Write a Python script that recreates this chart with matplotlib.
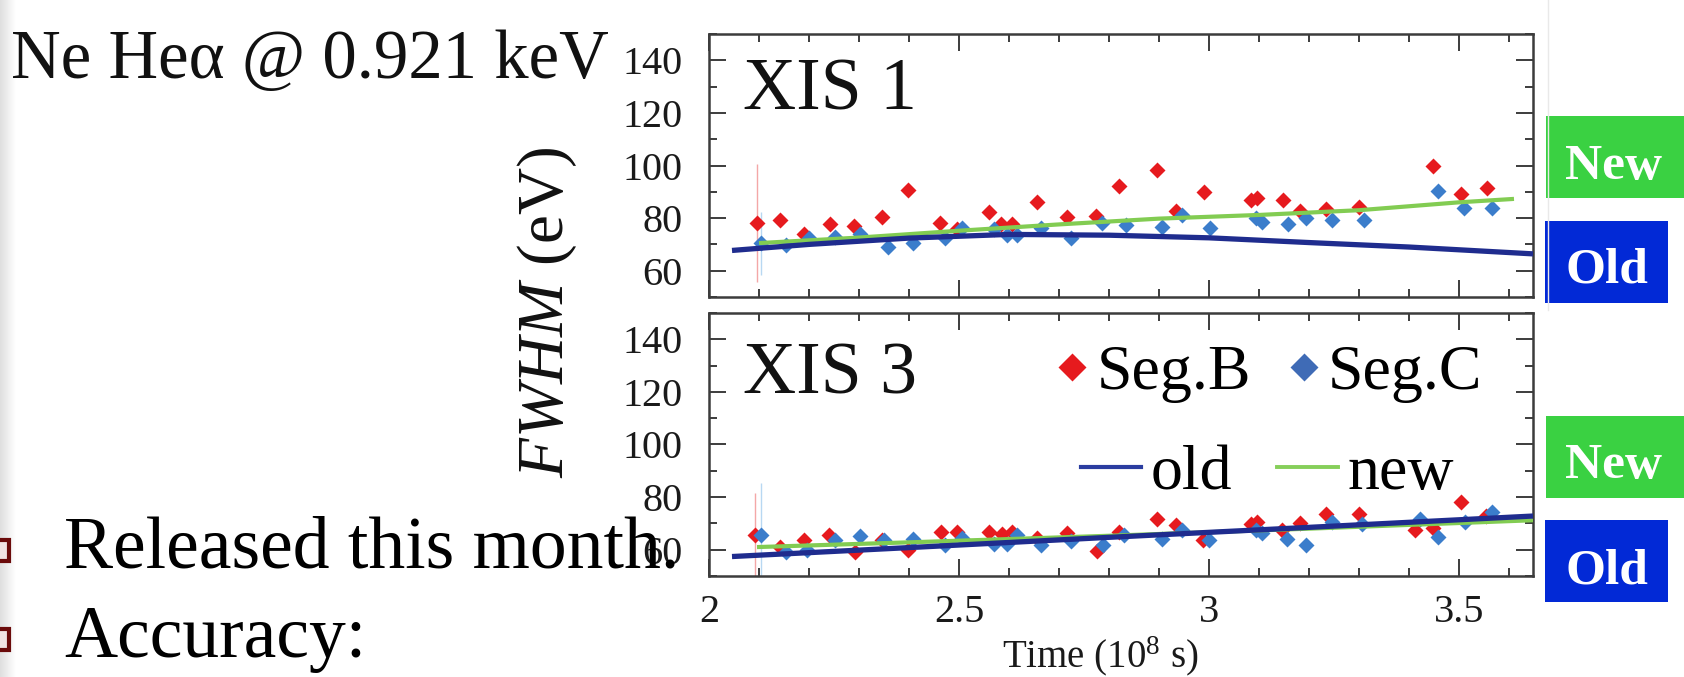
import matplotlib
matplotlib.use('Agg')
import matplotlib.pyplot as plt
from matplotlib.patches import Rectangle
from matplotlib.lines import Line2D
from matplotlib.ticker import FixedLocator, AutoMinorLocator
import numpy as np

plt.rcParams['font.family'] = ['Liberation Serif', 'DejaVu Serif']
plt.rcParams['mathtext.fontset'] = 'custom'
plt.rcParams['mathtext.rm'] = 'Liberation Serif'
plt.rcParams['mathtext.it'] = 'Liberation Serif:italic'

# ---------------- data ----------------
x_ticks = [2.0, 2.5, 3.0, 3.5]
x_ticklabels = ['2', '2.5', '3', '3.5']
y_ticks = [60, 80, 100, 120, 140]
y_ticklabels = ['60', '80', '100', '120', '140']

# XIS 1
t_B_top = [2.095, 2.143, 2.190, 2.242, 2.290, 2.346, 2.398, 2.462, 2.496, 2.560, 2.584, 2.606, 2.656, 2.715,
           2.773, 2.820, 2.895, 2.934, 2.990, 3.083, 3.096, 3.148, 3.182, 3.233, 3.300, 3.448, 3.503, 3.556]
y_B_top = [78.1, 79.4, 74.0, 77.9, 77.1, 80.4, 90.8, 78.1, 76.0, 82.3, 77.8, 77.8, 86.3, 80.4,
           80.9, 92.3, 98.4, 82.8, 90.1, 87.0, 87.6, 87.0, 82.8, 83.5, 84.4, 100.0, 89.1, 91.4]
t_C_top = [2.105, 2.155, 2.200, 2.252, 2.302, 2.358, 2.408, 2.472, 2.506, 2.570, 2.596, 2.616, 2.664, 2.724,
           2.786, 2.833, 2.906, 2.945, 3.002, 3.093, 3.106, 3.158, 3.193, 3.245, 3.310, 3.458, 3.510, 3.565]
y_C_top = [70.5, 69.8, 72.4, 73.0, 73.9, 69.2, 70.5, 72.4, 76.2, 75.9, 73.6, 73.6, 76.2, 72.4,
           78.1, 77.5, 76.8, 81.3, 76.4, 80.2, 78.7, 77.8, 80.2, 79.4, 79.1, 90.4, 84.0, 84.0]
old_top_t = [2.046, 2.2, 2.4, 2.6, 2.8, 3.0, 3.2, 3.4, 3.648]
old_top_y = [67.7, 70.0, 72.4, 73.8, 73.5, 72.5, 70.7, 69.0, 66.4]
new_top_t = [2.10, 2.3, 2.5, 2.7, 2.9, 3.1, 3.3, 3.5, 3.61]
new_top_y = [70.5, 72.6, 75.2, 77.6, 79.8, 81.2, 83.0, 86.0, 87.3]

# XIS 3
t_B_bot = [2.093, 2.143, 2.190, 2.240, 2.292, 2.346, 2.398, 2.463, 2.495, 2.560, 2.586, 2.606, 2.656, 2.715,
           2.775, 2.820, 2.896, 2.933, 2.988, 3.083, 3.096, 3.146, 3.182, 3.233, 3.300, 3.412, 3.448, 3.503, 3.553]
y_B_bot = [65.5, 61.0, 63.5, 65.5, 59.1, 63.8, 60.0, 66.7, 66.7, 66.7, 65.8, 66.7, 64.6, 66.3,
           59.5, 66.7, 71.5, 69.3, 63.5, 69.9, 70.5, 67.6, 70.2, 73.5, 73.7, 67.4, 68.4, 78.2, 72.7]
t_C_bot = [2.105, 2.153, 2.196, 2.252, 2.302, 2.350, 2.408, 2.472, 2.506, 2.570, 2.595, 2.615, 2.664, 2.723,
           2.788, 2.830, 2.906, 2.945, 3.000, 3.093, 3.106, 3.156, 3.193, 3.246, 3.306, 3.421, 3.458, 3.512, 3.566]
y_C_bot = [65.5, 59.1, 59.7, 63.8, 65.1, 63.5, 64.2, 61.9, 64.6, 62.3, 62.0, 65.5, 61.6, 63.3,
           61.6, 65.5, 64.2, 67.4, 63.8, 67.6, 66.3, 64.2, 61.6, 70.5, 69.9, 71.8, 64.8, 70.5, 74.3]
old_bot_t = [2.046, 2.4, 2.8, 3.2, 3.648]
old_bot_y = [57.4, 60.8, 64.7, 68.5, 72.8]
new_bot_t = [2.096, 2.4, 2.8, 3.2, 3.648]
new_bot_y = [61.0, 62.8, 65.3, 68.0, 71.2]

# error bars of the first (earliest) points
err_first_B = [22.5, 16.0]   # top, bottom panel
err_first_C = [12.0, 20.0]

panel_names = ['XIS 1', 'XIS 3']
legend_points = ['Seg.B', 'Seg.C']
legend_lines = ['old', 'new']
box_labels = ['New', 'Old']

# ---------------- style ----------------
RED = '#E61A1E'
BLUE = '#3B7DCB'
NAVY = '#1F2C8E'
GREEN = '#82CC52'
BOX_GREEN = '#3AD142'
BOX_BLUE = '#0229D6'
SPINE = '#3C3C3C'

W, H = 1684, 677
fig = plt.figure(figsize=(W / 100, H / 100), dpi=100)
fig.patch.set_facecolor('white')


def fx(px):
    return px / W


def fy(py):
    return 1 - py / H


# faint gradient at left edge of the slide
gax = fig.add_axes([0, 0, fx(16), 1])
gax.imshow(np.linspace(0.87, 1.0, 64)[None, :], cmap='gray', vmin=0, vmax=1,
           aspect='auto', extent=[0, 1, 0, 1])
gax.axis('off')

left = fx(709)
width = 824 / W
ax1 = fig.add_axes([left, fy(297), width, 263 / H])
ax2 = fig.add_axes([left, fy(576), width, 263 / H])

panels = [
    (ax1, t_B_top, y_B_top, t_C_top, y_C_top, old_top_t, old_top_y, new_top_t, new_top_y),
    (ax2, t_B_bot, y_B_bot, t_C_bot, y_C_bot, old_bot_t, old_bot_y, new_bot_t, new_bot_y),
]

for i, (ax, tb, yb, tc, yc, ot, oy, nt, ny) in enumerate(panels):
    ax.set_xlim(2.0, 3.648)
    ax.set_ylim(50, 150)
    ax.xaxis.set_major_locator(FixedLocator(x_ticks))
    ax.set_xticklabels(x_ticklabels)
    ax.xaxis.set_minor_locator(AutoMinorLocator(5))
    ax.yaxis.set_major_locator(FixedLocator(y_ticks))
    ax.set_yticklabels(y_ticklabels)
    ax.yaxis.set_minor_locator(AutoMinorLocator(2))
    ax.tick_params(which='both', direction='in', top=True, right=True,
                   color=SPINE, width=1.4, labelsize=29, labelcolor='#1a1a1a')
    ax.tick_params(which='major', length=12)
    ax.tick_params(which='minor', length=6)
    ax.tick_params(axis='y', pad=19)
    ax.tick_params(axis='x', pad=13)
    for s in ax.spines.values():
        s.set_color(SPINE)
        s.set_linewidth(1.8)

    # error bars on first points
    ax.errorbar([tb[0]], [yb[0]], yerr=[err_first_B[i]], fmt='none',
                ecolor='#F4A7A7', elinewidth=1.0, capsize=0, zorder=1)
    ax.errorbar([tc[0]], [yc[0]], yerr=[err_first_C[i]], fmt='none',
                ecolor='#B8D8F2', elinewidth=1.0, capsize=0, zorder=1)

    ax.plot(tb, yb, ls='none', marker='D', ms=8.2, color=RED, mec='none', zorder=2)
    ax.plot(tc, yc, ls='none', marker='D', ms=8.2, color=BLUE, mec='none', zorder=2)
    ax.plot(nt, ny, color=GREEN, lw=3.0, solid_capstyle='butt', zorder=3)
    ax.plot(ot, oy, color=NAVY, lw=3.8, solid_capstyle='butt', zorder=4)

ax1.tick_params(labelbottom=False)

ax1.text(34 / 824, (297 - 110) / 263, panel_names[0], transform=ax1.transAxes,
         fontsize=53, va='baseline', ha='left', color='#111111')
ax2.text(34 / 824, (576 - 393) / 263, panel_names[1], transform=ax2.transAxes,
         fontsize=53, va='baseline', ha='left', color='#111111')

# legends
h_pts = [Line2D([], [], ls='none', marker='D', ms=14, color=RED, mec='none'),
         Line2D([], [], ls='none', marker='D', ms=14, color='#3F6BB6', mec='none')]
fig.legend(h_pts, legend_points, ncol=2, fontsize=46, frameon=False,
           handlelength=0.55, handletextpad=0.1, columnspacing=0.55,
           borderpad=0, borderaxespad=0, loc='center right',
           bbox_to_anchor=(fx(1482), fy(374)), bbox_transform=fig.transFigure)
h_lns = [Line2D([], [], color='#2B3DA0', lw=3.0), Line2D([], [], color='#86CF5A', lw=2.8)]
fig.legend(h_lns, legend_lines, ncol=2, fontsize=46, frameon=False,
           handlelength=0.95, handletextpad=0.15, columnspacing=0.7,
           borderpad=0, borderaxespad=0, loc='center right',
           bbox_to_anchor=(fx(1454), fy(474)), bbox_transform=fig.transFigure)

# axis labels
fig.text(fx(1100), fy(667), 'Time (10$^{8}$ s)', fontsize=28, ha='center', va='baseline',
         color='#1a1a1a')
fig.text(fx(547), fy(312), r'$\mathit{FWHM}$ (eV)', fontsize=47, rotation=90,
         ha='center', va='center', color='#111111')

# slide texts
fig.text(fx(11), fy(78), 'Ne Heα @ 0.921 keV', fontsize=49.5, ha='left', va='baseline',
         color='#111111')
fig.text(fx(64), fy(567), 'Released this month.', fontsize=53, ha='left', va='baseline',
         color='#000000')
fig.text(fx(64), fy(657), 'Accuracy:', fontsize=53, ha='left', va='baseline',
         color='#000000')
for yb0, yb1 in [(540, 561), (629, 650)]:
    fig.patches.append(Rectangle((fx(-8), fy(yb1)), 17 / W, (yb1 - yb0) / H,
                                 transform=fig.transFigure, facecolor='#F1E4E4',
                                 edgecolor='#6B0B0B', lw=3))

# faint edge of embedded picture
fig.add_artist(Line2D([fx(1548), fx(1548)], [fy(0), fy(310)], color='#E9E9E9', lw=1,
                      transform=fig.transFigure))

# New / Old boxes
boxes = [
    (1546, 116, 1684, 198, BOX_GREEN, box_labels[0], 1614, 179),
    (1545, 221, 1668, 303, BOX_BLUE, box_labels[1], 1607, 283),
    (1546, 416, 1684, 498, BOX_GREEN, box_labels[0], 1614, 478),
    (1545, 520, 1668, 602, BOX_BLUE, box_labels[1], 1607, 583),
]
for x0, y0, x1, y1, col, lab, tx, ty in boxes:
    fig.patches.append(Rectangle((fx(x0), fy(y1)), (x1 - x0) / W, (y1 - y0) / H,
                                 transform=fig.transFigure, facecolor=col, edgecolor='none'))
    fig.text(fx(tx), fy(ty), lab, fontsize=37, fontweight='bold', color='white',
             ha='center', va='baseline')

fig.savefig('out.png', dpi=100, facecolor='white')
